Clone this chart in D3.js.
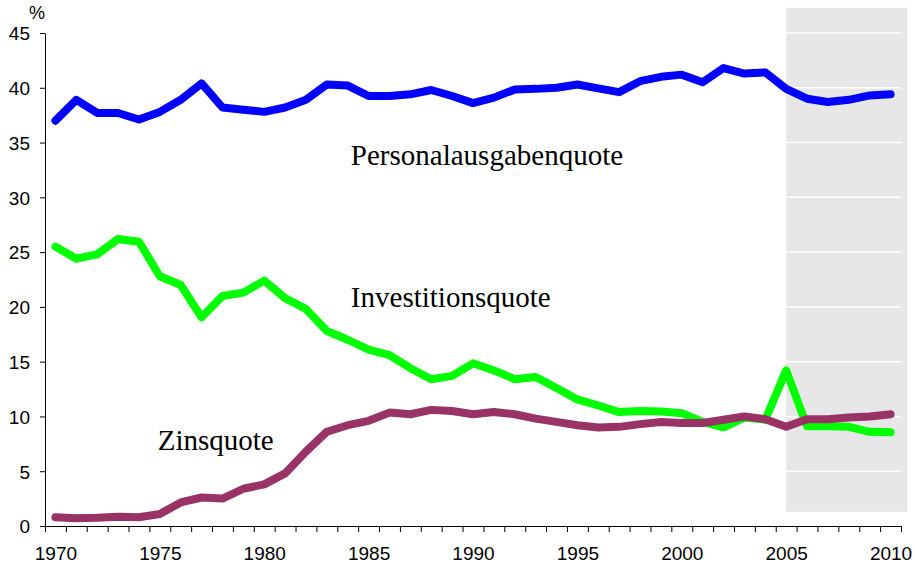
<!DOCTYPE html>
<html>
<head>
<meta charset="utf-8">
<script src="https://cdn.jsdelivr.net/npm/d3@7"></script>
<style>
  body { margin: 0; background: #fff; }
  svg { display: block; }
  .axis text { font-family: "Liberation Sans", Arial, sans-serif; font-size: 19px; fill: #000; }
  .axis path, .axis line { stroke: #000; stroke-width: 1; }
  .lbl { font-family: "Liberation Serif", "Times New Roman", serif; font-size: 29px; fill: #000; }
</style>
</head>
<body>
<div class="chart"></div>
<script>
var years = d3.range(1970, 2011);

var personal = [37.0, 38.9, 37.7, 37.7, 37.1, 37.8, 38.9, 40.4, 38.2, 38.0,
  37.8, 38.2, 38.9, 40.3, 40.2, 39.25, 39.25, 39.4, 39.8, 39.25,
  38.6, 39.1, 39.85, 39.9, 40.0, 40.3, 39.95, 39.6, 40.6, 41.0,
  41.2, 40.5, 41.8, 41.3, 41.4, 39.9, 39.0, 38.7, 38.9, 39.3, 39.4];

var invest = [25.5, 24.4, 24.8, 26.2, 25.95, 22.8, 22.0, 19.05, 21.0, 21.3,
  22.4, 20.8, 19.8, 17.8, 17.0, 16.1, 15.6, 14.4, 13.4, 13.7,
  14.85, 14.2, 13.4, 13.6, 12.6, 11.55, 11.0, 10.4, 10.5, 10.45,
  10.3, 9.5, 9.0, 9.9, 9.7, 14.2, 9.1, 9.1, 9.05, 8.6, 8.55];

var zins = [0.8, 0.7, 0.75, 0.85, 0.8, 1.1, 2.15, 2.6, 2.5, 3.4,
  3.8, 4.8, 6.8, 8.6, 9.2, 9.6, 10.35, 10.2, 10.6, 10.5,
  10.2, 10.4, 10.2, 9.8, 9.5, 9.2, 9.0, 9.05, 9.3, 9.5,
  9.4, 9.4, 9.7, 10.0, 9.75, 9.05, 9.75, 9.75, 9.9, 10.0, 10.2];

var yTicks = [0, 5, 10, 15, 20, 25, 30, 35, 40, 45];
var xLabels = [1970, 1975, 1980, 1985, 1990, 1995, 2000, 2005, 2010];

// Prognose-Bereich (grau hinterlegt)
var shadeYears = [2005, 2010.8];
var shadeValues = [1.3, 47.3];

var series = [
  { name: "Personalausgabenquote", values: personal, color: "#0000ff", at: [1984.15, 32.95] },
  { name: "Investitionsquote", values: invest, color: "#00ff00", at: [1984.15, 20.0] },
  { name: "Zinsquote", values: zins, color: "#993366", at: [1974.9, 6.95] }
];

var width = 916, height = 567;

var svg = d3.select(".chart").append("svg")
  .attr("width", width)
  .attr("height", height);

var x = d3.scaleLinear().domain([1969.5, 2010.5]).range([45, 901]);
var y = d3.scaleLinear().domain([0, 45]).range([526, 33]);

// grey box
svg.append("rect")
  .attr("x", x(shadeYears[0]))
  .attr("y", y(shadeValues[1]))
  .attr("width", x(shadeYears[1]) - x(shadeYears[0]))
  .attr("height", y(shadeValues[0]) - y(shadeValues[1]))
  .attr("fill", "#e7e7e7");

// white grid lines (only show on the grey)
svg.append("g").selectAll("line")
  .data(yTicks.slice(1))
  .enter().append("line")
  .attr("x1", x(1969.5))
  .attr("x2", x(2010.5))
  .attr("y1", function(d) { return y(d); })
  .attr("y2", function(d) { return y(d); })
  .attr("stroke", "#fff")
  .attr("stroke-width", 1.5);

// y axis
svg.append("g")
  .attr("class", "axis")
  .attr("transform", "translate(" + x(1969.5) + ",0)")
  .call(d3.axisLeft(y).tickValues(yTicks).tickSize(5).tickPadding(10).tickSizeOuter(0))
  .call(function(g) { g.selectAll("text").attr("dy", "0.36em"); });

// x axis: ticks on year boundaries
svg.append("g")
  .attr("class", "axis")
  .attr("transform", "translate(0," + y(0) + ")")
  .call(d3.axisBottom(x).tickValues(d3.range(1969.5, 2011, 1)).tickSize(6).tickSizeOuter(0).tickFormat(""));

// x labels centred on the years
svg.append("g")
  .attr("class", "axis")
  .attr("transform", "translate(0," + y(0) + ")")
  .call(d3.axisBottom(x).tickValues(xLabels).tickSize(0).tickPadding(21).tickFormat(d3.format("d")))
  .call(function(g) { g.select(".domain").remove(); });

svg.append("text")
  .attr("class", "axis")
  .attr("x", 29)
  .attr("y", 19)
  .style("font-family", "Liberation Sans, Arial, sans-serif")
  .style("font-size", "18px")
  .text("%");

var line = d3.line()
  .x(function(d, i) { return x(years[i]); })
  .y(function(d) { return y(d); });

svg.append("g").selectAll("path")
  .data(series)
  .enter().append("path")
  .attr("d", function(d) { return line(d.values); })
  .attr("fill", "none")
  .attr("stroke", function(d) { return d.color; })
  .attr("stroke-width", 8)
  .attr("stroke-linejoin", "round")
  .attr("stroke-linecap", "round");

svg.append("g").selectAll("text")
  .data(series)
  .enter().append("text")
  .attr("class", "lbl")
  .attr("x", function(d) { return x(d.at[0]); })
  .attr("y", function(d) { return y(d.at[1]); })
  .text(function(d) { return d.name; });
</script>
</body>
</html>
